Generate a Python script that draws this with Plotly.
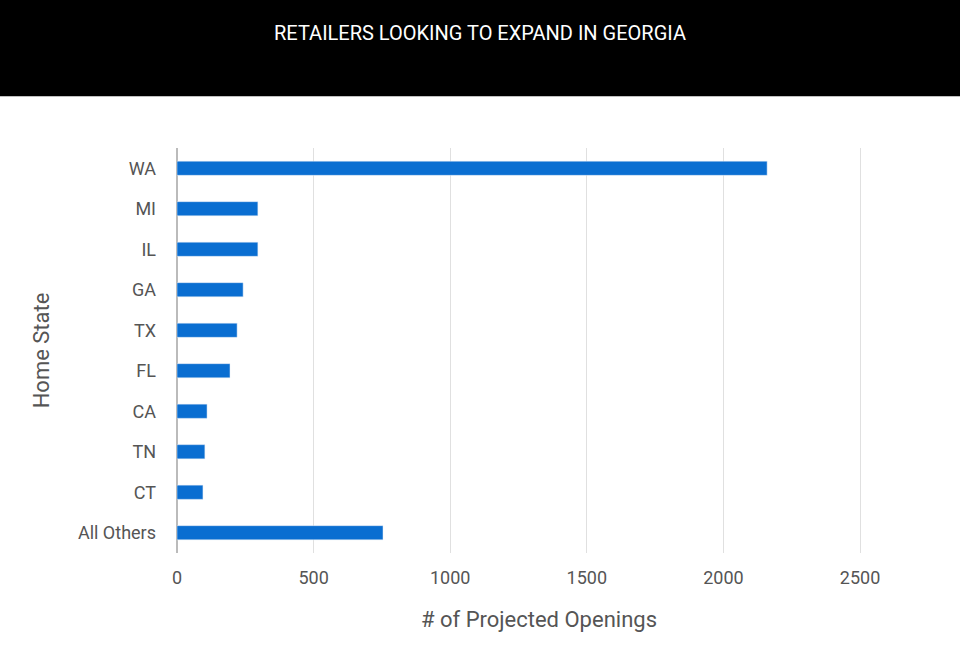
import plotly.graph_objects as go

states = ["WA", "MI", "IL", "GA", "TX", "FL", "CA", "TN", "CT", "All Others"]
openings = [2160, 296, 296, 242, 220, 194, 110, 102, 95, 754]
x_ticks = [0, 500, 1000, 1500, 2000, 2500]

fig = go.Figure()
fig.add_trace(go.Bar(y=states, x=openings, orientation="h",
                     marker=dict(color="#0a6ed1")))

# black header band
fig.add_shape(type="rect", xref="paper", yref="paper",
              x0=-1, x1=2, y0=1.128, y1=1.6, fillcolor="black", line_width=0, layer="below")

fig.update_layout(
    width=960, height=654,
    paper_bgcolor="white", plot_bgcolor="white",
    margin=dict(l=177, r=59, t=148, b=101),
    font=dict(family="Roboto", color="#555", size=18),
    title=dict(text="RETAILERS LOOKING TO EXPAND IN GEORGIA", x=0.5, y=0.961,
               xanchor="center", font=dict(color="white", size=20, family="Roboto")),
    bargap=0.65,
    showlegend=False,
)
fig.update_xaxes(range=[0, 2650], tickvals=x_ticks, showgrid=True, gridcolor="#e0e0e0",
                 zeroline=True, zerolinecolor="#bbb", ticks="", ticklabelstandoff=12,
                 title=dict(text="# of Projected Openings", standoff=24))
fig.update_yaxes(categoryorder="array", categoryarray=states[::-1], ticks="",
                 ticklabelstandoff=20,
                 title=dict(text="Home State", standoff=22))

fig.write_html("out.html", config={"displayModeBar": False},
               post_script="document.body.style.margin='0';")
